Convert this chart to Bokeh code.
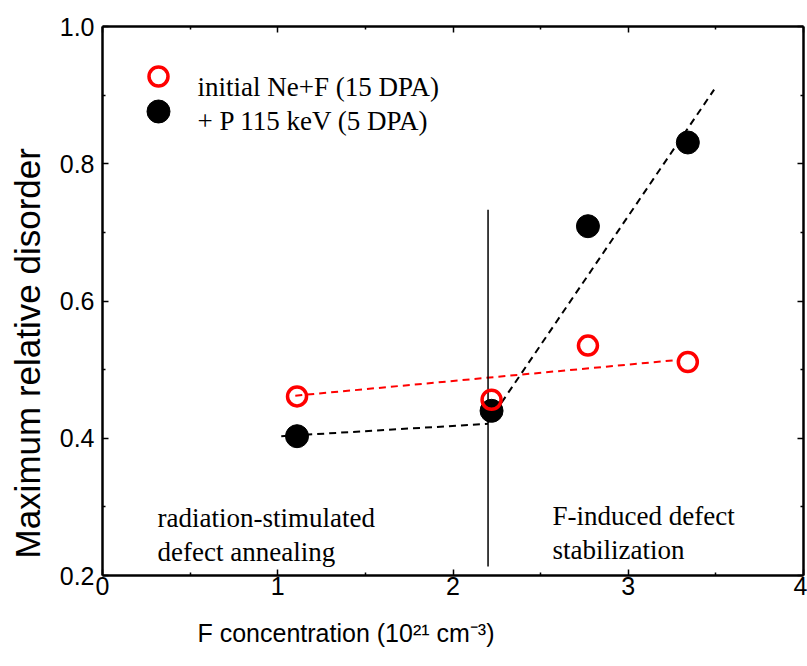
from bokeh.plotting import figure
from bokeh.models import Range1d, LinearAxis, FixedTicker, Label, Title
from bokeh.embed import file_html
from bokeh.resources import INLINE

# ---------------- data ----------------
conc_initial = [1.11, 2.22, 2.77, 3.34]
disorder_initial = [0.461, 0.456, 0.535, 0.511]

conc_proton = [1.11, 2.22, 2.77, 3.34]
disorder_proton = [0.403, 0.440, 0.709, 0.831]

fit_initial_x = [1.10, 3.28]
fit_initial_y = [0.462, 0.514]
fit_low_x = [1.02, 2.20]
fit_low_y = [0.403, 0.421]
fit_high_x = [2.20, 3.49]
fit_high_y = [0.423, 0.908]

boundary_x = [2.20, 2.20]
boundary_y = [0.213, 0.733]

x_ticks = [0, 1, 2, 3, 4]
x_minor = [0.5, 1.5, 2.5, 3.5]
y_ticks = [0.2, 0.4, 0.6, 0.8, 1.0]
y_tick_labels = ["0.2", "0.4", "0.6", "0.8", "1.0"]
y_minor = [0.3, 0.5, 0.7, 0.9]

x_title = "F concentration (10\u00b2\u00b9 cm\u207b\u00b3)"
y_title = "Maximum relative disorder"
legend_labels = ["initial Ne+F (15 DPA)", "+ P 115 keV (5 DPA)"]
region_left = ["radiation-stimulated", "defect annealing"]
region_right = ["F-induced defect", "stabilization"]

# ---------------- geometry helpers ----------------
W, H = 807, 666
FX0, FX1, FY0, FY1 = 102, 803, 26, 575   # frame in canvas pixels
XMIN, XMAX, YMIN, YMAX = 0.0, 4.0, 0.2, 1.0


def dx(px):
    return XMIN + (px - FX0) / (FX1 - FX0) * (XMAX - XMIN)


def dy(py):
    return YMAX - (py - FY0) / (FY1 - FY0) * (YMAX - YMIN)


SANS = "Liberation Sans"
SERIF = "Liberation Serif"

p = figure(width=W, height=H, output_backend="svg", toolbar_location=None,
           x_range=Range1d(XMIN, XMAX), y_range=Range1d(YMIN, YMAX),
           x_axis_location=None, y_axis_location=None,
           min_border_left=FX0, min_border_right=W - FX1,
           min_border_top=FY0, min_border_bottom=H - FY1)
p.outline_line_color = None
p.xgrid.visible = False
p.ygrid.visible = False
p.background_fill_color = "white"
p.border_fill_color = "white"

xt = FixedTicker(ticks=x_ticks, minor_ticks=x_minor)
yt = FixedTicker(ticks=y_ticks, minor_ticks=y_minor)


def style(ax, standoff):
    ax.axis_line_width = 2.5
    ax.axis_line_color = "black"
    ax.major_tick_in = 6
    ax.major_tick_out = 0
    ax.minor_tick_in = 3
    ax.minor_tick_out = 0
    ax.major_tick_line_width = 1.5
    ax.minor_tick_line_width = 1.5
    ax.major_label_standoff = standoff
    ax.major_label_text_font = SANS
    ax.major_label_text_font_size = "25px"
    ax.major_label_text_color = "black"


xb = LinearAxis(ticker=xt)
style(xb, 1)
p.add_layout(xb, "below")
yl = LinearAxis(ticker=yt)
yl.major_label_overrides = {v: s for v, s in zip(y_ticks, y_tick_labels)}
style(yl, 8)
p.add_layout(yl, "left")

# frame axes on top and right: ticks only, no labels
xtop = LinearAxis(ticker=xt)
style(xtop, 0)
xtop.major_label_overrides = {v: "" for v in x_ticks}
p.add_layout(xtop, "above")
yr = LinearAxis(ticker=yt)
style(yr, 0)
yr.major_label_overrides = {v: "" for v in y_ticks}
p.add_layout(yr, "right")

# ---------------- axis titles ----------------
p.add_layout(Title(text=x_title, align="left", offset=95, standoff=38,
                   vertical_align="bottom",
                   text_font=SANS, text_font_size="25px", text_font_style="normal",
                   text_color="black"), "below")
p.add_layout(Title(text=y_title, align="left", offset=17, standoff=15,
                   vertical_align="top",
                   text_font=SANS, text_font_size="35px", text_font_style="normal",
                   text_color="black"), "left")

# ---------------- lines ----------------
p.line(fit_low_x, fit_low_y, line_color="black", line_width=2, line_dash="7 5")
p.line(fit_high_x, fit_high_y, line_color="black", line_width=2, line_dash="7 5")
p.line(fit_initial_x, fit_initial_y, line_color="red", line_width=2, line_dash="7 5")
p.line(boundary_x, boundary_y, line_color="black", line_width=1.5)

# ---------------- markers ----------------
p.scatter(conc_proton, disorder_proton, marker="circle", size=23,
          fill_color="black", line_color="black")
p.scatter(conc_initial, disorder_initial, marker="circle", size=19,
          fill_color=None, line_color="red", line_width=3.5)

# ---------------- legend (manual) ----------------
p.scatter([dx(158)], [dy(76)], marker="circle", size=19, fill_color=None,
          line_color="red", line_width=3.5)
p.scatter([dx(158)], [dy(111)], marker="circle", size=23, fill_color="black",
          line_color="black")
for txt, py in zip(legend_labels, [86, 120]):
    p.add_layout(Label(x=dx(197), y=dy(py), text=txt, text_font=SERIF,
                       text_font_size="27px", text_color="black",
                       text_baseline="alphabetic", text_align="left"))

# ---------------- region annotations ----------------
for txt, py in zip(region_left, [517, 551]):
    p.add_layout(Label(x=dx(157), y=dy(py), text=txt, text_font=SERIF,
                       text_font_size="27px", text_color="black",
                       text_baseline="alphabetic", text_align="left"))
for txt, py in zip(region_right, [515, 549]):
    p.add_layout(Label(x=dx(552), y=dy(py), text=txt, text_font=SERIF,
                       text_font_size="27px", text_color="black",
                       text_baseline="alphabetic", text_align="left"))

open("out.html", "w").write(file_html(p, INLINE))
